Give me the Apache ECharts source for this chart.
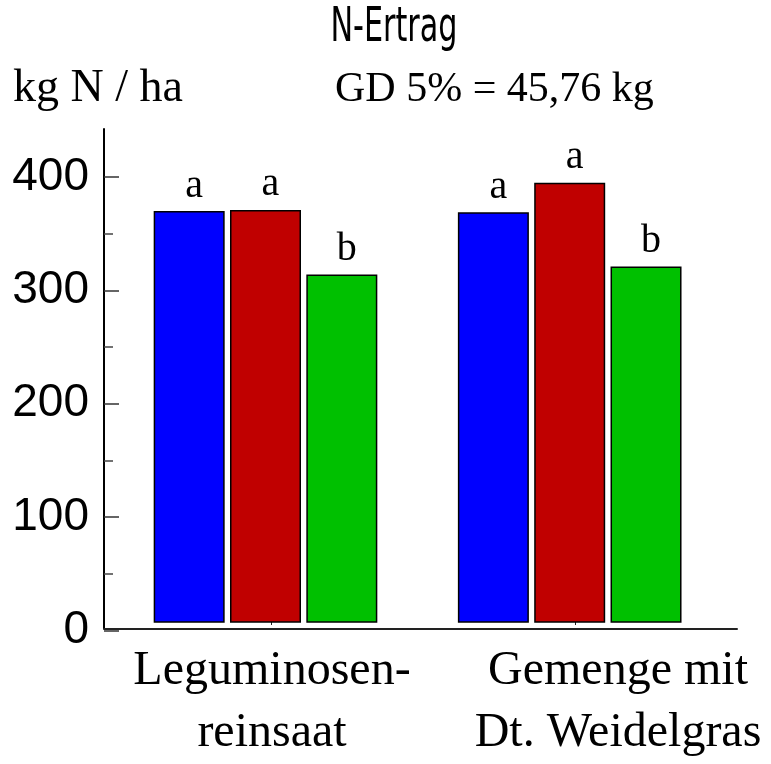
<!DOCTYPE html>
<html>
<head>
<meta charset="utf-8">
<script src="https://cdn.jsdelivr.net/npm/echarts@6/dist/echarts.min.js"></script>
<style>
  html, body { margin: 0; padding: 0; background: #fff; }
  #chart { width: 771px; height: 764px; }
</style>
</head>
<body>
<div id="chart"></div>
<script>
// N-Ertrag (kg N / ha) je Anbauvariante
const categories = ['Leguminosen-\nreinsaat', 'Gemenge mit\nDt. Weidelgras'];
const blueValues  = [370, 369];
const redValues   = [371, 395];
const greenValues = [314, 321];
const blueLetters  = ['a', 'a'];
const redLetters   = ['a', 'a'];
const greenLetters = ['b', 'b'];
const yTicks = [0, 100, 200, 300, 400];
const barBase = 7;   // bars rise from a small offset above the zero line

// layout / style constants
const serif = "'Liberation Serif', 'Times New Roman', serif";
const sans = "'Liberation Sans', Arial, sans-serif";
const labelShift = [2, 86];
const plotBottom = 764 - 630.6;

const chart = echarts.init(document.getElementById('chart'), null, { renderer: 'canvas' });

const colorSets = [
  { values: blueValues,  letters: blueLetters,  color: '#0000FF' },
  { values: redValues,   letters: redLetters,   color: '#C00000' },
  { values: greenValues, letters: greenLetters, color: '#00C000' }
];

const series = [];
colorSets.forEach((s, i) => {
  series.push({
    type: 'bar', xAxisIndex: 3, yAxisIndex: 3, stack: 'g' + i,
    barWidth: 71, barGap: '7.5%', silent: true,
    itemStyle: { color: 'rgba(0,0,0,0)', borderWidth: 0 },
    data: s.values.map(() => barBase)
  });
  series.push({
    type: 'bar', xAxisIndex: 3, yAxisIndex: 3, stack: 'g' + i,
    barWidth: 71, barGap: '7.5%',
    itemStyle: { color: s.color, borderColor: '#000', borderWidth: 1.5 },
    label: {
      show: true, position: 'top', distance: 5, offset: [5, 0],
      formatter: p => s.letters[p.dataIndex],
      fontFamily: serif, fontSize: 40, color: '#000'
    },
    data: s.values.map(v => v - barBase)
  });
});

const option = {
  animation: false,
  backgroundColor: '#fff',
  grid: [
    { left: 104, right: 34, top: 129, bottom: 764 - 628.3 },
    { left: 104, right: 34, top: 177, bottom: plotBottom },
    { left: 119, right: 44, top: 177, bottom: plotBottom },
    { left: 113.4, right: 49.2, top: 177, bottom: plotBottom }
  ],
  xAxis: [
    { gridIndex: 0, type: 'value', min: 0, max: 1,
      axisLine: { show: true, lineStyle: { color: '#222', width: 2 } },
      axisTick: { show: false }, axisLabel: { show: false }, splitLine: { show: false } },
    { gridIndex: 1, type: 'value', min: 0, max: 1, show: false },
    { gridIndex: 2, type: 'category', boundaryGap: true,
      data: categories.map((c, i) => ({ value: c, textStyle: { padding: [0, 0, 0, labelShift[i]] } })),
      axisLine: { show: false },
      axisTick: { show: true, inside: true, alignWithLabel: true, length: 12,
                  lineStyle: { color: '#222', width: 1 } },
      axisLabel: { interval: 0, margin: 15, fontFamily: serif, fontSize: 48,
                   lineHeight: 62, color: '#000' },
      splitLine: { show: false } },
    { gridIndex: 3, type: 'category', data: categories, show: false }
  ],
  yAxis: [
    { gridIndex: 0, type: 'value', min: 0, max: 1,
      axisLine: { show: true, lineStyle: { color: '#000', width: 2 } },
      axisTick: { show: false }, axisLabel: { show: false }, splitLine: { show: false } },
    { gridIndex: 1, type: 'value', min: yTicks[0], max: yTicks[yTicks.length - 1], interval: 100,
      axisLine: { show: false },
      axisTick: { show: true, inside: true, length: 15, lineStyle: { color: '#333', width: 1.5 } },
      minorTick: { show: true, splitNumber: 2, length: 9, lineStyle: { color: '#444', width: 1.5 } },
      axisLabel: { margin: 15, fontFamily: sans, fontSize: 46, color: '#000' },
      splitLine: { show: false } },
    { gridIndex: 2, type: 'value', min: 0, max: 400, show: false },
    { gridIndex: 3, type: 'value', min: 0, max: 400, show: false }
  ],
  graphic: [
    { type: 'text', x: 394, y: 29, scaleX: 0.70, originX: 0, originY: 0,
      style: { text: 'N-Ertrag', fontFamily: "'Liberation Sans Narrow', 'DejaVu Sans Condensed', sans-serif",
               fontSize: 48, fill: '#000', textAlign: 'center', textVerticalAlign: 'middle' } },
    { type: 'text', x: 13, y: 89,
      style: { text: 'kg N / ha', fontFamily: serif, fontSize: 46, fill: '#000',
               textAlign: 'left', textVerticalAlign: 'middle' } },
    { type: 'text', x: 335, y: 90,
      style: { text: 'GD 5% = 45,76 kg', fontFamily: serif, fontSize: 42, fill: '#000',
               textAlign: 'left', textVerticalAlign: 'middle' } }
  ],
  series: series
};

chart.setOption(option);
</script>
</body>
</html>
